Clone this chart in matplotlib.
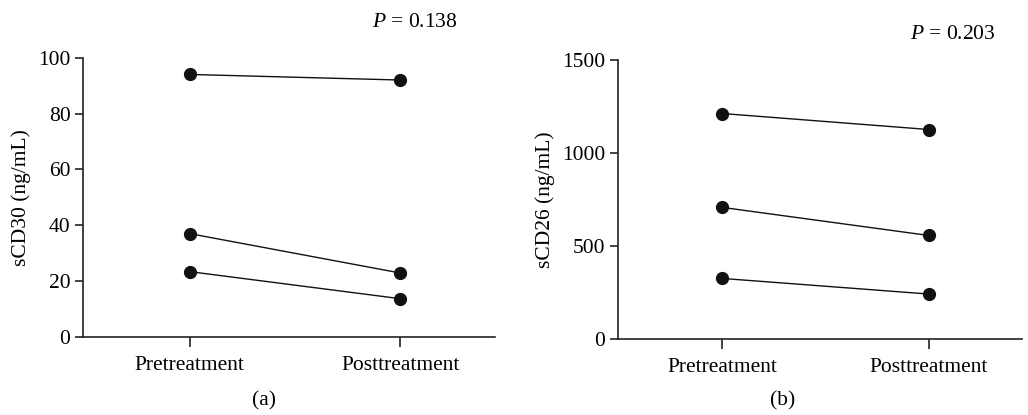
import matplotlib
matplotlib.use("Agg")
import matplotlib.pyplot as plt

# Data
groups = ["Pretreatment", "Posttreatment"]
scd30_pre = [94, 37, 23.4]
scd30_post = [92, 22.9, 13.7]
scd26_pre = [1213, 708, 326]
scd26_post = [1127, 557, 242]

plt.rcParams['font.family'] = ['Liberation Serif', 'DejaVu Serif']
plt.rcParams['font.size'] = 15.5
plt.rcParams['mathtext.fontset'] = 'custom'
plt.rcParams['mathtext.rm'] = 'Liberation Serif'
plt.rcParams['mathtext.it'] = 'Liberation Serif:italic'

fig = plt.figure(figsize=(10.28, 4.15), dpi=100)
ax1 = fig.add_axes([0.0807, 0.188, 0.401, 0.673])
ax2 = fig.add_axes([0.601, 0.183, 0.393, 0.672])

def draw(ax, pre, post, ylim, yticks, ylabel):
    for a, b in zip(pre, post):
        ax.plot([0, 1], [a, b], color='#111111', lw=1.0, marker='o',
                markersize=8.5, markerfacecolor='#111111', markeredgecolor='#111111')
    ax.set_xlim(-0.507, 1.45)
    ax.set_ylim(ylim)
    ax.set_yticks(yticks)
    ax.set_xticks([0, 1])
    ax.set_xticklabels(groups)
    ax.set_ylabel(ylabel, labelpad=5)
    for s in ['top', 'right']:
        ax.spines[s].set_visible(False)
    for s in ['left', 'bottom']:
        ax.spines[s].set_linewidth(1.2)
        ax.spines[s].set_color('#222222')
    ax.tick_params(direction='out', length=6, width=1.2, color='#222222', pad=3)
    ax.tick_params(axis='x', length=7, pad=7)

draw(ax1, scd30_pre, scd30_post, (0, 100), [0, 20, 40, 60, 80, 100], "sCD30 (ng/mL)")
draw(ax2, scd26_pre, scd26_post, (0, 1500), [0, 500, 1000, 1500], "sCD26 (ng/mL)")

fig.text(0.4035, 0.945, r"$\mathit{P}$ = 0.138", ha='center', va='center')
fig.text(0.927, 0.918, r"$\mathit{P}$ = 0.203", ha='center', va='center')
fig.text(0.257, 0.035, "(a)", ha='center', va='center')
fig.text(0.761, 0.035, "(b)", ha='center', va='center')

fig.savefig("out.png", dpi=100)
